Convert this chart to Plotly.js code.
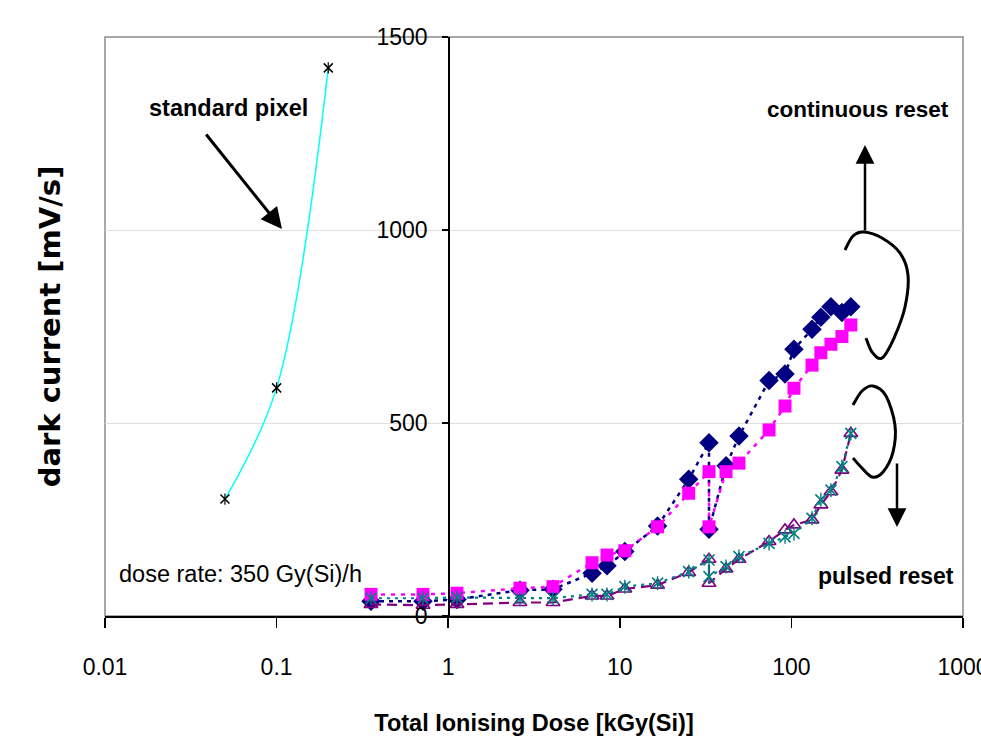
<!DOCTYPE html>
<html>
<head>
<meta charset="utf-8">
<script src="https://cdn.plot.ly/plotly-3.0.1.min.js"></script>
<style>html,body{margin:0;padding:0;background:#fff;}</style>
</head>
<body>
<div id="chart" style="width:981px;height:747px;"></div>
<script>
// ---------- data ----------
const doseStd = [0.05, 0.1, 0.2];
const darkStd = [303, 591, 1420];

const dose = [0.355, 0.713, 1.125, 2.62, 4.08, 6.89, 8.42, 10.7, 16.6, 25.2, 33.1, 33.1, 41.6, 49.5, 74.1, 91.8, 103.5, 131.9, 148.5, 170, 197, 222];
const contA = [38, 38, 43, 67, 69, 111, 130, 167, 233, 354, 449, 225, 389, 466, 610, 627, 691, 743, 774, 801, 786, 801];
const contB = [56, 56, 59, 72, 76, 138, 158, 169, 231, 318, 374, 231, 374, 396, 482, 544, 590, 650, 682, 704, 724, 754];
const pulsedA = [30, 28, 30, 35, 35, 52, 52, 70, 80, 113, 147, 85, 122, 147, 193, 223, 236, 249, 288, 322, 378, 473];
const pulsedB = [46, 46, 48, 46, 46, 56, 56, 76, 85, 115, 145, 102, 128, 154, 188, 205, 214, 253, 301, 326, 387, 473];

const xTickVals = [0.01, 0.1, 1, 10, 100, 1000];
const xTickText = ['0.01', '0.1', '1', '10', '100', '1000'];
const yTickVals = [0, 500, 1000, 1500];

// ---------- styling ----------
const NARROW = "'Liberation Sans', Arial, sans-serif";
const WIDE = "'DejaVu Sans', 'Liberation Sans', sans-serif";

const traces = [
  {x: doseStd, y: darkStd, mode: 'lines+markers', type: 'scatter', yaxis: 'y2',
   line: {color: '#00FFFF', width: 1.5, shape: 'spline', smoothing: 1},
   marker: {symbol: 'x-thin-open', size: 9, color: '#000', line: {color: '#000', width: 1.5}}},
  {x: doseStd, y: darkStd, mode: 'markers', type: 'scatter', yaxis: 'y2',
   marker: {symbol: 'line-ns-open', size: 8, color: '#000', line: {color: '#000', width: 1.2}}},
  {x: dose, y: contA, mode: 'lines+markers', type: 'scatter',
   line: {color: '#000080', width: 2.5, dash: '4px,5px'},
   marker: {symbol: 'diamond', size: 15, color: '#000080'}},
  {x: dose, y: contB, mode: 'lines+markers', type: 'scatter',
   line: {color: '#FF00FF', width: 2.5, dash: '4px,6px'},
   marker: {symbol: 'square', size: 13, color: '#FF00FF'}},
  {x: dose, y: pulsedA, mode: 'lines+markers', type: 'scatter',
   line: {color: '#800080', width: 2.2, dash: '10px,6px'},
   marker: {symbol: 'triangle-up-open', size: 12, color: '#800080', line: {color: '#800080', width: 1.6}}},
  {x: dose, y: pulsedB, mode: 'lines+markers', type: 'scatter',
   line: {color: '#008080', width: 2.2, dash: '3px,5px'},
   marker: {symbol: 'x-thin-open', size: 11, color: '#008080', line: {color: '#008080', width: 1.6}}},
  {x: dose, y: pulsedB, mode: 'markers', type: 'scatter',
   marker: {symbol: 'line-ns-open', size: 10, color: '#008080', line: {color: '#008080', width: 1.4}}}
];

// plot-area geometry helpers (pixel -> paper) for decorations only
const L = 105, T = 37, W = 858, H = 579;
function px(x) { return (x - L) / W; }
function py(y) { return (T + H - y) / H; }
function smoothPath(pts) {
  const p = pts.map(q => [px(q[0]), py(q[1])]);
  let d = 'M' + p[0][0].toFixed(4) + ',' + p[0][1].toFixed(4);
  for (let i = 0; i < p.length - 1; i++) {
    const p0 = p[i - 1] || p[i], p1 = p[i], p2 = p[i + 1], p3 = p[i + 2] || p[i + 1];
    const c1 = [p1[0] + (p2[0] - p0[0]) / 6, p1[1] + (p2[1] - p0[1]) / 6];
    const c2 = [p2[0] - (p3[0] - p1[0]) / 6, p2[1] - (p3[1] - p1[1]) / 6];
    d += ' C' + c1.map(v => v.toFixed(4)).join(',') + ' ' + c2.map(v => v.toFixed(4)).join(',') + ' ' + p2.map(v => v.toFixed(4)).join(',');
  }
  return d;
}
const bracketTop = [[845,250],[853,236],[864,232],[882,238],[900,253],[908,275],[905,307],[894,338],[882,358],[872,352],[866,338]];
const bracketBot = [[853,405],[862,391],[873,386],[886,396],[895,425],[893,452],[883,472],[872,477],[861,467],[853,458]];

function label(x, y, text, size, bold) {
  return {xref: 'paper', yref: 'paper', x: px(x), y: py(y), xanchor: 'center', yanchor: 'middle',
          text: text, showarrow: false,
          font: {family: NARROW, size: size, color: '#000', weight: bold ? 'bold' : 'normal'}};
}
function arrow(x, y, ax, ay, width, size) {
  return {xref: 'paper', yref: 'paper', x: px(x), y: py(y), text: '', showarrow: true,
          ax: ax, ay: ay, arrowhead: 2, arrowsize: size, arrowwidth: width, arrowcolor: '#000', standoff: 0};
}

const layout = {
  width: 981, height: 747,
  margin: {l: L, r: 981 - L - W, t: T, b: 747 - T - H},
  paper_bgcolor: '#fff', plot_bgcolor: '#fff',
  showlegend: false,
  xaxis: {
    type: 'log', range: [-2, 3], domain: [0, 1],
    tickvals: xTickVals, ticktext: xTickText,
    ticks: 'outside', ticklen: 10, tickwidth: 1.5, tickcolor: '#000',
    ticklabelstandoff: 19, ticklabeloverflow: 'allow',
    showline: true, linecolor: '#000', linewidth: 2,
    showgrid: false, zeroline: false,
    tickfont: {family: NARROW, size: 23, color: '#000'},
    title: {text: 'Total Ionising Dose [kGy(Si)]', font: {family: NARROW, size: 23.5, color: '#000', weight: 'bold'}, standoff: 36}
  },
  yaxis: {
    range: [0, 1500], anchor: 'free', position: 0.4,
    tickvals: yTickVals,
    ticks: 'outside', ticklen: 6, tickwidth: 1.5, tickcolor: '#000',
    ticklabelstandoff: 10,
    showline: true, linecolor: '#000', linewidth: 1.5,
    showgrid: true, gridcolor: '#e0e0e0', gridwidth: 1,
    zeroline: false,
    tickfont: {family: NARROW, size: 23, color: '#000'}
  },
  yaxis2: {
    range: [0, 1500], overlaying: 'y', anchor: 'free', position: 0, side: 'left',
    showticklabels: false, ticks: '', showline: false, showgrid: false, zeroline: false,
    title: {text: 'dark current [mV/s]', font: {family: WIDE, size: 29, color: '#000', weight: 'bold'}, standoff: 34}
  },
  shapes: [
    {type: 'rect', xref: 'paper', yref: 'paper', x0: 0, x1: 1, y0: 0, y1: 1,
     line: {color: '#8c8c8c', width: 1.5}, layer: 'below'},
    {type: 'path', xref: 'paper', yref: 'paper', path: smoothPath(bracketTop), line: {color: '#000', width: 3}},
    {type: 'path', xref: 'paper', yref: 'paper', path: smoothPath(bracketBot), line: {color: '#000', width: 3}}
  ],
  annotations: [
    label(228, 108, 'standard pixel', 23.5, true),
    arrow(282, 229, -77, -96, 3, 1.4),
    label(240, 574, 'dose rate: 350 Gy(Si)/h', 23.5, false),
    label(858, 110, 'continuous reset', 22.5, true),
    label(886, 576, 'pulsed reset', 23, true),
    arrow(865, 145, 0, 87, 2.5, 1.5),
    arrow(897, 527, 0, -65, 2.5, 1.5)
  ]
};

Plotly.newPlot('chart', traces, layout, {displayModeBar: false, staticPlot: true});
</script>
</body>
</html>
